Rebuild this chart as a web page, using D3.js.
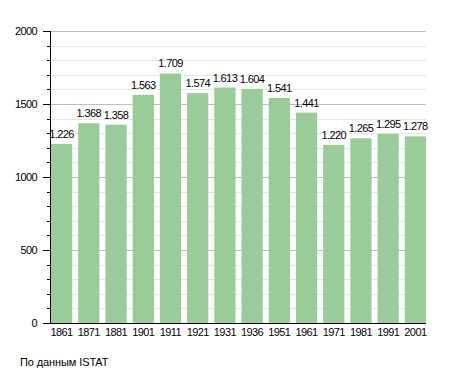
<!DOCTYPE html>
<html><head><meta charset="utf-8">
<script src="https://cdn.jsdelivr.net/npm/d3@7"></script>
<style>body{margin:0;background:#fff}svg{display:block}text{font-family:"Liberation Sans",Arial,sans-serif;font-size:11px;letter-spacing:-0.6px}</style>
</head><body><svg id="c" width="455" height="373"></svg>
<script>
const years = ["1861","1871","1881","1901","1911","1921","1931","1936","1951","1961","1971","1981","1991","2001"];
const population = [1226,1368,1358,1563,1709,1574,1613,1604,1541,1441,1220,1265,1295,1278];
const yTicks = [0,500,1000,1500,2000];
const source = "По данным  ISTAT";

(function(){
const svg = d3.select("#c");
const pl = 50, pr = 426, pt = 31, pb = 323;
const x = d3.scaleBand().domain(years).range([pl+1, pr]).paddingInner(0.22).paddingOuter(0.0);
const y = d3.scaleLinear().domain([0,2000]).range([pb, pt]);

const minor = d3.range(0, 2001, 100);
svg.append("g").selectAll("line").data(minor.filter(v => v%500 !== 0)).join("line")
  .attr("x1", pl).attr("x2", pr).attr("y1", d=>Math.round(y(d))+0.5).attr("y2", d=>Math.round(y(d))+0.5)
  .attr("stroke", "#e6e6e6");
svg.append("g").selectAll("line").data(yTicks.filter(v=>v>0)).join("line")
  .attr("x1", pl).attr("x2", pr).attr("y1", d=>Math.round(y(d))+0.5).attr("y2", d=>Math.round(y(d))+0.5)
  .attr("stroke", "#bdbdbd");

svg.append("g").selectAll("rect").data(population).join("rect")
  .attr("x", (d,i)=>x(years[i])).attr("width", x.bandwidth())
  .attr("y", d=>y(d)).attr("height", d=>pb - y(d))
  .attr("fill", "#99cc99");

const fmt = v => d3.format(",")(v).replace(/,/g, ".");
svg.append("g").selectAll("text").data(population).join("text")
  .attr("x", (d,i)=>x(years[i]) + x.bandwidth()/2).attr("y", d=>y(d)-6)
  .attr("text-anchor","middle").attr("fill","#000")
  .text(d=>fmt(d));

svg.append("g").selectAll("line").data(minor).join("line")
  .attr("x1", d => d%500===0 ? pl-7 : pl-3).attr("x2", pl)
  .attr("y1", d=>Math.round(y(d))+0.5).attr("y2", d=>Math.round(y(d))+0.5).attr("stroke","#000");

svg.append("g").selectAll("text").data(yTicks).join("text")
  .attr("x", 37).attr("y", d=>y(d)).attr("dy","0.35em")
  .attr("text-anchor","end").text(d=>d);

svg.append("line").attr("x1", pl+0.5).attr("x2", pl+0.5).attr("y1", pt).attr("y2", pb+1).attr("stroke","#000");
svg.append("line").attr("x1", pl).attr("x2", pr).attr("y1", pb+0.5).attr("y2", pb+0.5).attr("stroke","#000");

svg.append("g").selectAll("text").data(years).join("text")
  .attr("x", d=>x(d)+x.bandwidth()/2).attr("y", 332).attr("dy","0.35em")
  .attr("text-anchor","middle").text(d=>d);

svg.append("text").attr("x", 20).attr("y", 362).attr("dy","0.35em").style("letter-spacing","-0.1px").text(source);
})();
</script></body></html>
